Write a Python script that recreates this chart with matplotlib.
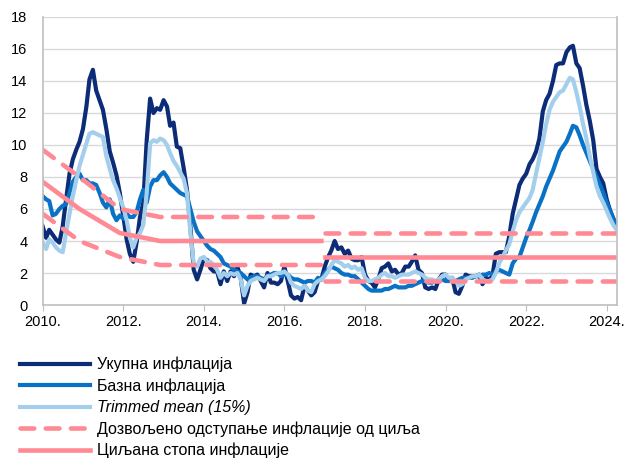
import matplotlib
matplotlib.use("Agg")
import matplotlib.pyplot as plt
import pandas as pd

plt.rcParams['font.family'] = ['Liberation Sans', 'DejaVu Sans']

# мјесечни подаци, јан 2010 - апр 2024
meseci = pd.date_range('2010-01-01', periods=172, freq='MS')

ukupna = [
    4.9, 4.2, 4.7, 4.4, 4.1, 3.9, 4.9, 6.6, 8.2, 9.1, 9.7, 10.2,
    11.0, 12.4, 14.1, 14.7, 13.4, 12.8, 12.2, 11.0, 9.6, 8.9, 8.1, 7.0,
    5.6, 4.1, 3.2, 2.7, 3.9, 5.5, 6.4, 10.3, 12.9, 12.0, 12.3, 12.2,
    12.8, 12.4, 11.2, 11.4, 9.9, 9.8, 8.6, 7.2, 4.9, 2.2, 1.6, 2.2,
    2.9, 2.8, 2.3, 2.1, 2.1, 1.3, 2.1, 1.5, 2.1, 1.8, 2.4, 1.7,
    0.1, 0.8, 1.9, 1.8, 1.9, 1.5, 1.1, 2.0, 1.4, 1.4, 1.3, 1.5,
    2.4, 1.5, 0.6, 0.4, 0.5, 0.3, 1.2, 0.9, 0.6, 0.8, 1.5, 1.6,
    2.4, 3.0, 3.4, 4.0, 3.5, 3.6, 3.2, 3.4, 2.9, 2.8, 2.8, 3.0,
    1.9, 1.5, 1.4, 1.1, 1.6, 2.3, 2.4, 2.6, 2.1, 2.2, 1.9, 2.0,
    2.4, 2.4, 2.7, 3.1, 2.2, 2.0, 1.1, 1.0, 1.1, 1.0, 1.6, 1.9,
    1.9, 1.5, 1.7, 0.8, 0.7, 1.2, 1.9, 1.8, 1.8, 1.8, 1.9, 1.3,
    1.7, 1.6, 1.8, 3.2, 3.3, 3.3, 3.3, 4.3, 5.7, 6.6, 7.5, 7.9,
    8.2, 8.8, 9.1, 9.6, 10.4, 12.1, 12.8, 13.2, 14.0, 15.0, 15.1, 15.1,
    15.8, 16.1, 16.2, 15.1, 14.8, 13.7, 12.5, 11.5, 10.3, 8.5, 8.0, 7.6,
    6.6, 5.9, 5.4, 5.0,
]

bazna = [
    6.8, 6.6, 6.5, 5.6, 5.7, 6.0, 6.2, 6.3, 7.0, 7.7, 8.0, 8.2,
    7.8, 7.8, 7.6, 7.6, 7.5, 7.0, 6.4, 6.1, 6.6, 5.7, 5.3, 5.6,
    5.4, 5.7, 5.5, 5.5, 5.8, 6.6, 7.2, 6.4, 7.4, 7.8, 7.8, 8.1,
    8.3, 8.0, 7.6, 7.4, 7.2, 7.0, 6.9, 6.8, 6.0, 5.2, 4.6, 4.3,
    4.0, 3.7, 3.5, 3.4, 3.2, 3.0, 2.6, 2.5, 2.4, 2.2, 2.1, 2.0,
    1.8, 1.6, 1.7, 1.8, 1.8, 1.7, 1.6, 1.8, 1.9, 2.0, 2.0, 1.8,
    1.9, 1.9, 1.7, 1.6, 1.6, 1.5, 1.4, 1.5, 1.5, 1.4, 1.7, 1.6,
    2.0, 2.2, 2.4, 2.3, 2.2, 2.0, 1.9, 1.9, 1.8, 1.8, 1.6, 1.4,
    1.2, 1.0, 0.9, 0.9, 0.9, 0.9, 1.0, 1.0, 1.1, 1.2, 1.1, 1.1,
    1.1, 1.2, 1.2, 1.3, 1.4, 1.5, 1.5, 1.4, 1.4, 1.5, 1.5, 1.6,
    1.5, 1.5, 1.5, 1.5, 1.6, 1.7, 1.7, 1.7, 1.7, 1.8, 1.8, 1.9,
    1.9, 2.0, 1.9, 2.1, 2.2, 2.1, 2.0, 1.9, 2.6, 2.9, 3.0, 3.6,
    4.2, 4.7, 5.2, 5.8, 6.3, 6.8, 7.4, 7.9, 8.4, 9.0, 9.6, 9.9,
    10.2, 10.7, 11.2, 11.1, 10.6, 10.0, 9.5, 9.0, 8.5, 8.0, 7.5, 7.0,
    6.4, 5.9, 5.4, 4.9,
]

trimmed = [
    3.9, 3.5, 4.1, 3.9, 3.6, 3.4, 3.3, 4.5, 5.7, 6.8, 7.8, 8.7,
    9.4, 10.1, 10.7, 10.8, 10.7, 10.6, 10.5, 9.3, 8.5, 7.8, 7.3, 6.7,
    6.1, 5.3, 4.2, 3.6, 4.2, 4.5, 5.0, 7.0, 10.1, 10.3, 10.2, 10.4,
    10.3, 10.0, 9.5, 9.0, 8.7, 8.3, 7.9, 7.0, 4.5, 2.6, 2.4, 2.9,
    3.0, 2.7, 2.7, 2.5, 2.2, 1.7, 2.0, 1.8, 2.0, 1.9, 2.0, 1.6,
    0.6, 1.2, 1.5, 1.6, 1.7, 1.6, 1.5, 1.8, 1.8, 1.9, 2.0, 2.0,
    2.1, 1.9, 1.4, 1.2, 1.1, 1.0, 1.2, 0.9, 0.8, 1.3, 1.5, 1.6,
    1.8, 2.1, 2.5, 2.8, 2.7, 2.6, 2.4, 2.5, 2.3, 2.4, 2.2, 2.3,
    1.7, 1.5, 1.5, 1.6, 1.7, 1.9, 2.0, 1.8, 1.8, 1.7, 1.8, 1.9,
    1.9, 1.9, 2.0, 2.1, 2.0, 1.9, 1.7, 1.6, 1.6, 1.5, 1.6, 1.8,
    1.9, 1.7, 1.7, 1.5, 1.2, 1.3, 1.6, 1.7, 1.8, 1.8, 1.9, 1.6,
    1.5, 1.5, 1.6, 2.0, 2.6, 3.0, 3.4, 3.8, 4.6, 5.3, 5.8, 6.1,
    6.4, 6.7, 7.2, 8.2, 9.2, 10.2, 11.3, 12.2, 12.7, 13.0, 13.3, 13.4,
    13.8, 14.2, 14.1, 13.3, 12.4, 11.3, 10.4, 9.3, 8.3, 7.4, 6.8, 6.4,
    5.9, 5.4, 5.0, 4.7,
]

# циљ и дозвољено одступање (преломне тачке)
cilj1_datumi = pd.to_datetime(['2010-01-01', '2010-12-01', '2011-12-01', '2012-12-01', '2016-12-01'])
cilj1 = [7.7, 6.0, 4.5, 4.0, 4.0]
gornja1 = [9.7, 8.0, 6.0, 5.5, 5.5]
donja1 = [5.7, 4.0, 3.0, 2.5, 2.5]

cilj2_datumi = pd.to_datetime(['2017-01-01', '2024-04-01'])
cilj2 = [3.0, 3.0]
gornja2 = [4.5, 4.5]
donja2 = [1.5, 1.5]

godine = list(range(2010, 2025, 2))

c_uk = '#0c2c78'
c_baz = '#0a72c6'
c_tr = '#a3cfec'
c_pink = '#ff8a95'

fig = plt.figure(figsize=(6.27, 4.59), dpi=100)
ax = fig.add_axes([0.0681, 0.3355, 0.9155, 0.6275])

lw = 3.0
ax.plot(meseci, ukupna, color=c_uk, lw=lw, label='Укупна инфлација')
ax.plot(meseci, bazna, color=c_baz, lw=lw, label='Базна инфлација')
ax.plot(meseci, trimmed, color=c_tr, lw=lw, label='Trimmed mean (15%)')

crte = dict(color=c_pink, lw=3.3, dashes=(3.0, 2.5), dash_capstyle='round')
ax.plot(cilj1_datumi, gornja1, label='Дозвољено одступање инфлације од циља', **crte)
ax.plot(cilj1_datumi, donja1, **crte)
ax.plot(cilj2_datumi, gornja2, **crte)
ax.plot(cilj2_datumi, donja2, **crte)

ax.plot(cilj1_datumi, cilj1, color=c_pink, lw=3.3, label='Циљана стопа инфлације')
ax.plot(cilj2_datumi, cilj2, color=c_pink, lw=3.3)

ax.set_xlim(meseci[0], meseci[-1])
ax.set_ylim(0, 18)
ax.set_yticks(range(0, 19, 2))
ax.set_xticks(pd.to_datetime([f'{g}-01-01' for g in godine]))
ax.set_xticklabels([f'{g}.' for g in godine])

ax.grid(axis='y', color='#d9d9d9', lw=1)
ax.set_axisbelow(True)
for s in ['left', 'bottom', 'right']:
    ax.spines[s].set_color('#bfbfbf')
    ax.spines[s].set_linewidth(1.2)
ax.spines['top'].set_visible(False)
ax.tick_params(axis='y', length=0, pad=11, labelsize=10.5)
ax.tick_params(axis='x', length=4, color='#bfbfbf', pad=3, labelsize=10.5)

leg = fig.legend(loc='upper left', bbox_to_anchor=(20 / 627, 1 - 357 / 459),
                 frameon=False, fontsize=11.5, handlelength=4.4, handletextpad=0.44,
                 labelspacing=0.38, borderpad=0, borderaxespad=0)
leg.get_texts()[2].set_fontstyle('italic')

fig.savefig('out.png', dpi=100)
